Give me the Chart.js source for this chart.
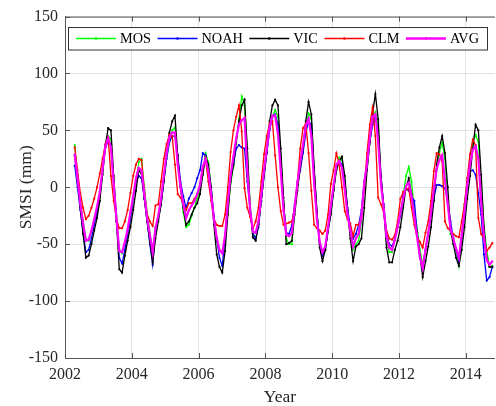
<!DOCTYPE html>
<html>
<head>
<meta charset="utf-8">
<title>SMSI</title>
<script src="https://cdn.jsdelivr.net/npm/chart.js@4/dist/chart.umd.min.js"></script>
<style>
  html, body { margin: 0; padding: 0; background: #fff; }
  #wrap { width: 496px; height: 406px; }
</style>
</head>
<body>
<div id="wrap"><canvas id="chart" width="496" height="406"></canvas></div>
<script>
// monthly values, Apr 2002 .. Oct 2014 (one line per year)
var startYear = 2002;
var startMonth = 4;

var mos = [
  37, 10, -12, -30, -45, -47, -40, -30, -20,
  -8, 12, 35, 45, 42, 8, -25, -55, -58, -50, -40, -28,
  -12, 5, 22, 25, 0, -22, -40, -55, -35, -28, -15, 5,
  25, 40, 50, 53, 25, 0, -22, -35, -33, -25, -18, -10,
  -2, 12, 30, 22, 0, -28, -48, -55, -57, -45, -22, 3,
  18, 38, 60, 80, 72, 30, -15, -40, -45, -32, -12, 10,
  30, 52, 62, 68, 62, 28, -12, -45, -50, -50, -20, 3,
  18, 32, 52, 65, 60, 15, -22, -50, -60, -55, -38, -22,
  -2, 16, 26, 24, 5, -20, -42, -55, -50, -47, -30, 5,
  15, 38, 58, 66, 55, 5, -20, -45, -57, -57, -45, -35,
  -25, -8, 10, 18, 5, -20, -36, -55, -68, -55, -40, -20,
  0, 14, 31, 39, 25, -10, -41, -44, -56, -69, -45, -15,
  5, 25, 40, 46, 40, 5, -33, -55, -70, -69
];

var noah = [
  19, 0, -20, -40, -57, -55, -45, -33, -22,
  -8, 15, 35, 40, 38, 5, -30, -62, -67, -55, -42, -28,
  -10, 5, 10, 8, -10, -30, -50, -68, -40, -28, -15, 5,
  25, 40, 45, 45, 28, 5, -8, -18, -10, -5, 0, 8,
  15, 30, 28, 15, 0, -25, -45, -62, -69, -45, -12, 8,
  20, 34, 37, 35, 34, 5, -20, -41, -45, -35, -12, 10,
  30, 50, 62, 64, 55, 25, -15, -40, -41, -33, -15, 2,
  15, 30, 48, 58, 55, 15, -22, -50, -60, -55, -38, -22,
  -2, 18, 23, 20, 5, -18, -35, -45, -41, -33, -20, 5,
  20, 40, 55, 61, 50, 10, -15, -40, -50, -52, -45, -35,
  -25, -8, -1, -3, -8, -12, -40, -62, -70, -55, -40, -25,
  -10, 2, 2, 1, -1, -12, -30, -45, -55, -65, -45, -25,
  5, 14, 15, 11, -5, -24, -59, -82, -79, -70
];

var vic = [
  28, 5, -18, -41, -62, -60, -50, -38, -27,
  -12, 11, 37, 52, 50, 10, -30, -72, -75, -60, -47, -35,
  -20, -3, 15, 12, -10, -30, -48, -66, -45, -30, -15, 5,
  30, 48, 58, 63, 28, 0, -18, -33, -30, -24, -18, -14,
  -6, 11, 27, 20, 0, -33, -59, -70, -75, -56, -24, 5,
  20, 40, 58, 72, 77, 34, -18, -44, -47, -33, -12, 11,
  32, 58, 72, 77, 72, 34, -9, -50, -49, -47, -24, -3,
  17, 34, 58, 75, 64, 17, -21, -53, -65, -55, -38, -24,
  -3, 15, 23, 27, 10, -20, -45, -65, -52, -50, -45, -18,
  15, 40, 65, 82, 60, 10, -18, -53, -66, -66, -55, -47,
  -35, -18, 0, 8, -6, -25, -40, -60, -79, -65, -52, -35,
  -12, 20, 35, 45, 30, 0, -38, -50, -62, -69, -55, -35,
  -10, 10, 34, 55, 50, 11, -35, -62, -70, -70
];

var clm = [
  35, 15, -5, -18, -28, -25, -18, -10, 0,
  12, 25, 38, 44, 10, -12, -28, -36, -36, -30, -20, -5,
  10, 20, 25, 24, -3, -24, -30, -34, -16, -15, 5, 25,
  38, 46, 45, 20, -6, -9, -15, -20, -14, -14, -10, -6,
  2, 18, 24, 5, -12, -28, -33, -34, -34, -24, 0, 31,
  50, 62, 72, 49, -1, -18, -26, -36, -30, -18, 5, 29,
  45, 56, 58, 28, 0, -21, -33, -32, -31, -30, -18, 5,
  34, 52, 56, 30, -3, -33, -36, -38, -41, -38, -24, 3,
  15, 30, 20, 0, -21, -28, -32, -43, -33, -33, -26, 0,
  30, 55, 70, 45, -9, -15, -22, -38, -45, -46, -42, -30,
  -10, -4, -2, -1, -18, -33, -44, -48, -53, -40, -30, -12,
  14, 30, 29, 23, -30, -36, -38, -41, -43, -44, -30, -15,
  8, 29, 42, 37, -27, -41, -45, -56, -53, -49
];

var avg = [
  29, 8, -14, -32, -47, -46, -38, -28, -17,
  -4, 16, 36, 43, 35, 3, -28, -56, -57, -48, -37, -22,
  -8, 8, 17, 15, -6, -27, -42, -57, -36, -25, -10, 10,
  30, 44, 48, 48, 20, 0, -15, -27, -20, -16, -12, -6,
  2, 18, 25, 14, -6, -28, -44, -55, -58, -42, -14, 11,
  27, 43, 55, 59, 61, 15, -20, -39, -40, -30, -8, 15,
  34, 53, 63, 63, 47, 15, -20, -42, -43, -40, -18, 4,
  22, 37, 54, 60, 45, 4, -28, -48, -57, -52, -35, -16,
  2, 20, 23, 17, -2, -24, -38, -52, -45, -41, -25, 4,
  20, 43, 62, 64, 40, 3, -19, -43, -53, -55, -46, -35,
  -22, -10, 1, 4, -8, -26, -44, -61, -71, -55, -40, -22,
  -2, 16, 24, 28, 6, -15, -37, -45, -54, -62, -42, -22,
  2, 20, 33, 36, 25, -12, -43, -64, -68, -65
];

var seriesNames = ['MOS', 'NOAH', 'VIC', 'CLM', 'AVG'];
var seriesColors = ['#00ff00', '#0000ff', '#000000', '#ff0000', '#ff00ff'];
var xTicks = [2002, 2004, 2006, 2008, 2010, 2012, 2014];
var yTicks = [-150, -100, -50, 0, 50, 100, 150];

(function(Chart) {
  'use strict';

  var SERIF = "'Liberation Serif', 'Times New Roman', serif";
  var AXIS_COLOR = '#555555';

  // mid-month decimal year for each value
  function toPoints(values) {
    return values.map(function(v, i) {
      var m = startMonth - 1 + i;
      return { x: startYear + (m + 0.5) / 12, y: v };
    });
  }

  var allValues = [mos, noah, vic, clm, avg];

  var datasets = allValues.map(function(values, i) {
    var isAvg = seriesNames[i] === 'AVG';
    return {
      label: seriesNames[i],
      data: toPoints(values),
      borderColor: seriesColors[i],
      backgroundColor: seriesColors[i],
      borderWidth: isAvg ? 2.2 : 1.3,
      pointRadius: 1.1,
      pointBorderWidth: 0,
      pointHoverRadius: 0,
      tension: 0,
      order: allValues.length - i // AVG on top
    };
  });

  // matlab-style box: top border plus inward tick marks
  var axisBox = {
    id: 'axisBox',
    afterDraw: function(chart) {
      var ctx = chart.ctx;
      var area = chart.chartArea;
      var xs = chart.scales.x;
      var ys = chart.scales.y;
      var len = 5;

      ctx.save();
      ctx.strokeStyle = AXIS_COLOR;
      ctx.lineWidth = 1;
      ctx.beginPath();
      ctx.moveTo(area.left, area.top + 0.5);
      ctx.lineTo(area.right, area.top + 0.5);

      xTicks.forEach(function(t) {
        var px = Math.round(xs.getPixelForValue(t)) + 0.5;
        ctx.moveTo(px, area.top);
        ctx.lineTo(px, area.top + len);
        ctx.moveTo(px, area.bottom);
        ctx.lineTo(px, area.bottom - len);
      });
      yTicks.forEach(function(t) {
        var py = Math.round(ys.getPixelForValue(t)) + 0.5;
        ctx.moveTo(area.left, py);
        ctx.lineTo(area.left + len, py);
      });
      ctx.stroke();
      ctx.restore();
    }
  };

  // legend sits inside the axes, in a framed white box
  var boxLegend = {
    id: 'boxLegend',
    afterDraw: function(chart) {
      var ctx = chart.ctx;
      var box = { left: 68.5, top: 27.5, right: 487.5, bottom: 50 };
      var midY = 38.5;
      var sampleLen = 40;
      var x = 76;

      ctx.save();
      ctx.fillStyle = '#ffffff';
      ctx.fillRect(box.left, box.top, box.right - box.left, box.bottom - box.top);
      ctx.strokeStyle = '#333333';
      ctx.lineWidth = 1;
      ctx.strokeRect(box.left, box.top, box.right - box.left, box.bottom - box.top);

      ctx.font = '14.3px ' + SERIF;
      ctx.textBaseline = 'middle';
      ctx.textAlign = 'left';

      chart.data.datasets.forEach(function(ds) {
        ctx.strokeStyle = ds.borderColor;
        ctx.lineWidth = ds.borderWidth + 0.2;
        ctx.beginPath();
        ctx.moveTo(x, midY);
        ctx.lineTo(x + sampleLen, midY);
        ctx.stroke();

        ctx.fillStyle = ds.borderColor;
        ctx.beginPath();
        ctx.arc(x + sampleLen / 2, midY, 1.3, 0, Math.PI * 2);
        ctx.fill();

        var tx = x + sampleLen + 4;
        ctx.fillStyle = '#000000';
        ctx.fillText(ds.label, tx, midY + 0.5);
        x = tx + ctx.measureText(ds.label).width + 6.5;
      });
      ctx.restore();
    }
  };

  new Chart(document.getElementById('chart'), {
    type: 'line',
    data: { datasets: datasets },
    options: {
      responsive: false,
      animation: false,
      events: [],
      layout: { padding: { top: 15, right: 0, bottom: 0, left: 0 } },
      plugins: {
        legend: { display: false },
        tooltip: { enabled: false }
      },
      scales: {
        x: {
          type: 'linear',
          min: 2002,
          max: 2014.87,
          afterFit: function(scale) { scale.height = 48; },
          afterBuildTicks: function(scale) {
            scale.ticks = xTicks.map(function(v) { return { value: v }; });
          },
          ticks: {
            padding: 7,
            color: '#262626',
            font: { family: SERIF, size: 16 },
            callback: function(v) { return String(v); }
          },
          grid: { color: '#e2e2e2', lineWidth: 1, drawTicks: false },
          border: { display: true, color: AXIS_COLOR, width: 1 },
          title: {
            display: true,
            text: 'Year',
            color: '#262626',
            font: { family: SERIF, size: 17.5 },
            padding: { top: 0, bottom: -1.5 }
          }
        },
        y: {
          type: 'linear',
          min: -150,
          max: 150,
          afterFit: function(scale) { scale.width = 65; },
          afterBuildTicks: function(scale) {
            scale.ticks = yTicks.map(function(v) { return { value: v }; });
          },
          ticks: {
            padding: 7,
            color: '#262626',
            font: { family: SERIF, size: 16 },
            callback: function(v) { return String(v); }
          },
          grid: { color: '#e2e2e2', lineWidth: 1, drawTicks: false },
          border: { display: true, color: AXIS_COLOR, width: 1 },
          title: {
            display: true,
            text: 'SMSI (mm)',
            color: '#262626',
            font: { family: SERIF, size: 17.5 },
            padding: { top: 16, bottom: 0 }
          }
        }
      }
    },
    plugins: [axisBox, boxLegend]
  });

}(Chart));
</script>
</body>
</html>
